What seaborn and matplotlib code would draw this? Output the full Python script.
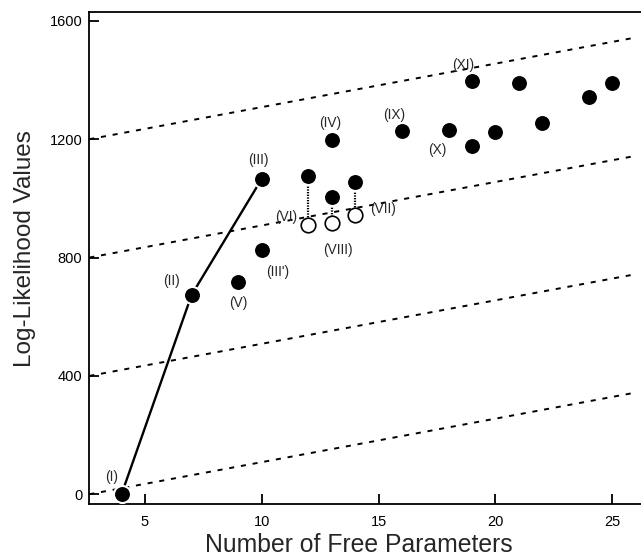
import numpy as np
import pandas as pd
import matplotlib
matplotlib.use("Agg")
import matplotlib.pyplot as plt
import seaborn as sns

# ---- data ----
filled_params = [4, 7, 10, 10, 9, 13, 12, 13, 14, 16, 18, 19, 19, 20, 21, 22, 24, 25]
filled_loglik = [0, 674, 1066, 824, 719, 1196, 1076, 1004, 1055, 1229, 1230, 1397, 1178, 1223, 1390, 1256, 1342, 1390]

path_params = [4, 7, 10]
path_loglik = [0, 674, 1066]

open_params = [12, 13, 14]
open_loglik = [910, 918, 944]
open_from = [1076, 1004, 1055]

ref_offsets = [0, 400, 800, 1200]
ref_slope = 14.7
ref_x = [2.62, 25.83]

label_text = ['(I)', '(II)', '(III)', "(III')", '(V)', '(IV)', '(VI)', '(VII)', '(VIII)', '(IX)', '(X)', '(XI)']
label_x = [4, 7, 10, 10, 9, 13, 12, 14, 13, 16, 18, 19]
label_y = [0, 674, 1066, 824, 719, 1196, 910, 944, 918, 1229, 1230, 1397]
label_dx = [-10, -20, -3, 16, 0, -2, -22, 28, 6, -8, -11, -9]
label_dy = [-17, -14, -19, 22, 21, -17, -8, -6, 27, -16, 20, -16]

x_ticks = [5, 10, 15, 20, 25]
y_ticks = [0, 400, 800, 1200, 1600]

# ---- style ----
sns.set_theme(style="ticks")
plt.rcParams['font.family'] = ['Liberation Sans', 'DejaVu Sans']

W, H = 641, 559
fig = plt.figure(figsize=(W / 100, H / 100), dpi=100)
ax = fig.add_axes([89.3 / W, (H - 504) / H, 1 - 89.3 / W, (504 - 11.7) / H])

# reference dashed lines
for off in ref_offsets:
    xs = np.array(ref_x)
    ys = off + ref_slope * (xs - ref_x[0])
    sns.lineplot(x=xs, y=ys, ax=ax, color='black', lw=1.4,
                 linestyle=(0, (2.6, 3.5)), zorder=1)

# solid path
sns.lineplot(x=path_params, y=path_loglik, ax=ax, color='black', lw=1.7,
             sort=False, zorder=2)

# dotted connectors
for xp, y0, y1 in zip(open_params, open_from, open_loglik):
    ax.plot([xp, xp], [y0, y1], color='black', lw=1.6, linestyle=(0, (0.6, 0.6)), zorder=2)

# filled points
sns.scatterplot(x=filled_params, y=filled_loglik, ax=ax, s=150, color='black',
                edgecolor='white', linewidth=1.5, zorder=3)
# open points
sns.scatterplot(x=open_params, y=open_loglik, ax=ax, s=110, facecolor='white',
                edgecolor='black', linewidth=1.2, zorder=3)

for t, xv, yv, dx, dy in zip(label_text, label_x, label_y, label_dx, label_dy):
    ax.annotate(t, (xv, yv), xytext=(dx * 0.72, -dy * 0.72), textcoords='offset points',
                ha='center', va='center', fontsize=9.8, zorder=4)

ax.set_xlim(2.62, 26.23)
ax.set_ylim(-33, 1631)
ax.set_xticks(x_ticks)
ax.set_yticks(y_ticks)
ax.tick_params(direction='in', length=7.5, width=1.3, labelsize=10.5, colors='black')
ax.tick_params(axis='y', pad=5)
ax.tick_params(axis='x', pad=8)
for side in ['left', 'bottom', 'top']:
    ax.spines[side].set_linewidth(1.3)
    ax.spines[side].set_color('black')
ax.spines['right'].set_visible(False)
ax.set_xlabel('Number of Free Parameters', fontsize=17.8)
ax.set_ylabel('Log-Likelihood Values', fontsize=17.5)
ax.xaxis.set_label_coords(0.488, -(545 - 504) / (504 - 11.7), transform=ax.transAxes)
ax.yaxis.set_label_coords(-(89.3 - 25) / (641 - 89.3), (504 - 249) / (504 - 11.7), transform=ax.transAxes)
ax.xaxis.label.set_va('center')
ax.yaxis.label.set_va('center')

fig.savefig('out.png', dpi=100)
